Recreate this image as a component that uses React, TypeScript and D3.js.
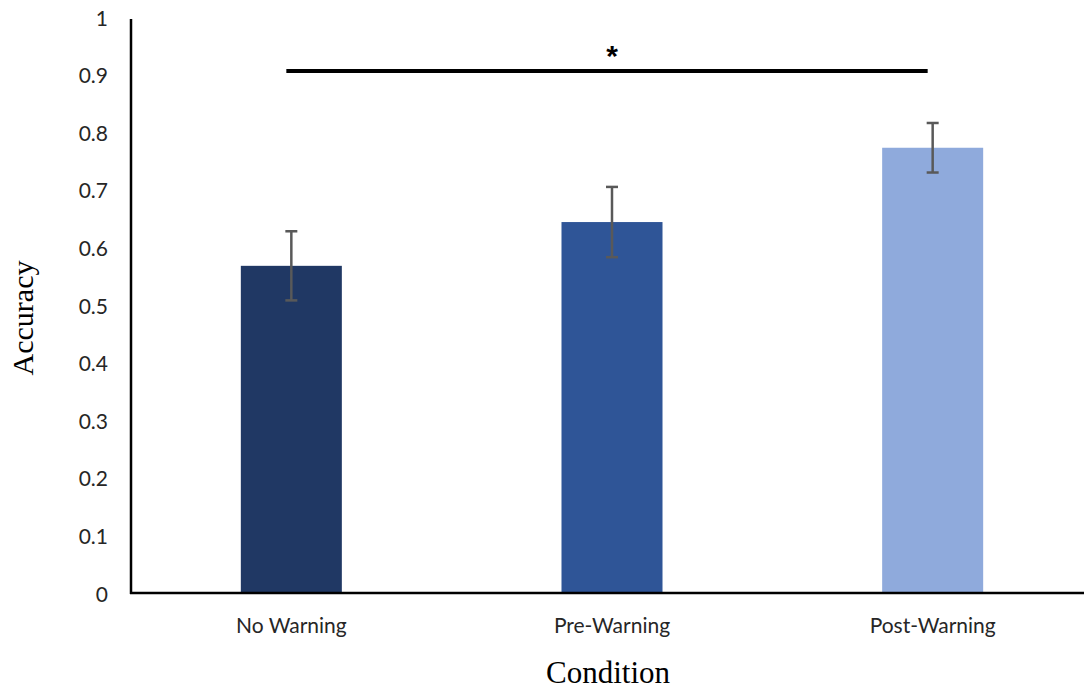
import React from "react";
import * as d3 from "d3";

const conditions = ["No Warning", "Pre-Warning", "Post-Warning"];
const accuracy = [0.568, 0.644, 0.773];
const errors = [0.06, 0.061, 0.043];
const barColors = ["#203864", "#2F5597", "#8FAADC"];
const yTicks = [0, 0.1, 0.2, 0.3, 0.4, 0.5, 0.6, 0.7, 0.8, 0.9, 1];

const W = 1084;
const H = 691;

export default function App() {
  const x = d3
    .scaleBand<string>()
    .domain(conditions)
    .range([131, 1093])
    .paddingInner(0.685)
    .paddingOuter(0.3425);
  const y = d3.scaleLinear().domain([0, 1]).range([593, 17]);
  const bw = x.bandwidth();
  const cx = (c: string) => (x(c) as number) + bw / 2;
  const tickFont = "Lato, 'Open Sans', sans-serif";
  const capW = 6;

  return (
    <svg
      width={W}
      height={H}
      style={{ position: "absolute", left: 0, top: 0, background: "#fff" }}
    >
      {/* bars */}
      {conditions.map((c, i) => (
        <rect
          key={c}
          x={x(c)}
          y={y(accuracy[i])}
          width={bw}
          height={y(0) - y(accuracy[i])}
          fill={barColors[i]}
        />
      ))}
      {/* error bars */}
      {conditions.map((c, i) => {
        const hi = y(accuracy[i] + errors[i]);
        const lo = y(accuracy[i] - errors[i]);
        const xc = cx(c);
        return (
          <g key={c + "-err"} stroke="#595959" strokeWidth={2.5}>
            <line x1={xc} x2={xc} y1={hi} y2={lo} />
            <line x1={xc - capW} x2={xc + capW} y1={hi} y2={hi} />
            <line x1={xc - capW} x2={xc + capW} y1={lo} y2={lo} />
          </g>
        );
      })}
      {/* axes */}
      <line x1={131} x2={131} y1={y(1) + 2} y2={y(0) + 1} stroke="#000" strokeWidth={2.5} />
      <line x1={130} x2={W} y1={y(0)} y2={y(0)} stroke="#000" strokeWidth={2.5} />
      {yTicks.map((t) => (
        <text
          key={t}
          x={108}
          y={y(t)}
          textAnchor="end"
          dominantBaseline="central"
          fontFamily={tickFont}
          fontSize={21}
          fill="#262626"
        >
          {d3.format("~g")(t)}
        </text>
      ))}
      {conditions.map((c) => (
        <text
          key={c + "-lbl"}
          x={cx(c)}
          y={633}
          textAnchor="middle"
          fontFamily={tickFont}
          fontSize={21}
          fill="#262626"
        >
          {c}
        </text>
      ))}
      {/* significance bracket */}
      <line
        x1={cx(conditions[0]) - 5}
        x2={cx(conditions[2]) - 5}
        y1={71}
        y2={71}
        stroke="#000"
        strokeWidth={4}
      />
      <text
        x={612}
        y={66}
        textAnchor="middle"
        fontFamily="'Liberation Sans', Arial, sans-serif"
        fontSize={30}
        fontWeight="bold"
        fill="#000"
      >
        *
      </text>
      {/* axis titles */}
      <text
        x={608}
        y={683}
        textAnchor="middle"
        fontFamily="'Liberation Serif', 'Times New Roman', serif"
        fontSize={31}
        fill="#000"
      >
        Condition
      </text>
      <text
        transform={`translate(33, 318) rotate(-90)`}
        textAnchor="middle"
        fontFamily="'Liberation Serif', 'Times New Roman', serif"
        fontSize={30}
        fill="#000"
      >
        Accuracy
      </text>
    </svg>
  );
}
